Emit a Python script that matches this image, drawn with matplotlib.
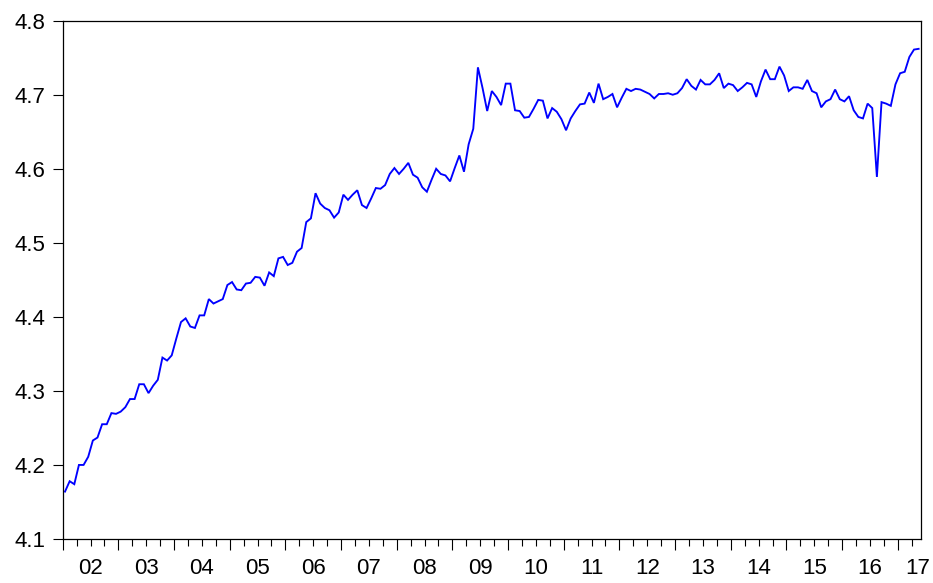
import numpy as np
import matplotlib
matplotlib.use("Agg")
import matplotlib.pyplot as plt
from matplotlib.ticker import MultipleLocator, NullFormatter
import matplotlib.transforms as mtransforms

plt.rcParams['font.family'] = ['Liberation Sans', 'DejaVu Sans']

# Monthly series, 2002m1 - 2017m5
start_year = 2002
y2002 = [4.164, 4.178, 4.174, 4.200, 4.200, 4.211, 4.233, 4.237, 4.255, 4.255, 4.270, 4.269]
y2003 = [4.272, 4.278, 4.289, 4.289, 4.309, 4.309, 4.297, 4.307, 4.315, 4.345, 4.341, 4.348]
y2004 = [4.371, 4.393, 4.398, 4.387, 4.385, 4.402, 4.402, 4.424, 4.418, 4.421, 4.424, 4.443]
y2005 = [4.447, 4.437, 4.436, 4.445, 4.446, 4.454, 4.453, 4.442, 4.460, 4.455, 4.479, 4.481]
y2006 = [4.470, 4.473, 4.488, 4.493, 4.528, 4.533, 4.567, 4.553, 4.547, 4.544, 4.534, 4.541]
y2007 = [4.565, 4.558, 4.565, 4.571, 4.551, 4.547, 4.560, 4.574, 4.573, 4.578, 4.593, 4.601]
y2008 = [4.593, 4.600, 4.608, 4.592, 4.588, 4.575, 4.569, 4.585, 4.600, 4.593, 4.591, 4.583]
y2009 = [4.601, 4.618, 4.596, 4.633, 4.654, 4.737, 4.709, 4.678, 4.705, 4.697, 4.686, 4.715]
y2010 = [4.715, 4.679, 4.678, 4.669, 4.670, 4.681, 4.693, 4.692, 4.668, 4.682, 4.677, 4.667]
y2011 = [4.652, 4.668, 4.678, 4.687, 4.688, 4.703, 4.689, 4.715, 4.694, 4.697, 4.701, 4.683]
y2012 = [4.696, 4.708, 4.705, 4.708, 4.707, 4.704, 4.701, 4.695, 4.701, 4.701, 4.702, 4.700]
y2013 = [4.702, 4.709, 4.721, 4.712, 4.707, 4.720, 4.714, 4.714, 4.720, 4.729, 4.709, 4.715]
y2014 = [4.713, 4.705, 4.710, 4.716, 4.714, 4.697, 4.718, 4.734, 4.721, 4.721, 4.738, 4.726]
y2015 = [4.705, 4.710, 4.710, 4.708, 4.720, 4.705, 4.702, 4.683, 4.691, 4.694, 4.707, 4.694]
y2016 = [4.691, 4.698, 4.679, 4.670, 4.668, 4.688, 4.682, 4.589, 4.690, 4.688, 4.685, 4.714]
y2017 = [4.729, 4.731, 4.751, 4.761, 4.762]

year_labels = ['02', '03', '04', '05', '06', '07', '08', '09', '10',
               '11', '12', '13', '14', '15', '16', '17']
y_ticks = [4.1, 4.2, 4.3, 4.4, 4.5, 4.6, 4.7, 4.8]

values = np.array(y2002 + y2003 + y2004 + y2005 + y2006 + y2007 + y2008 + y2009 +
                  y2010 + y2011 + y2012 + y2013 + y2014 + y2015 + y2016 + y2017)
n = len(values)
x = start_year + (np.arange(n) + 0.5) / 12.0

fig = plt.figure(figsize=(9.33, 5.83), dpi=100)
ax = fig.add_axes([0.0672, 0.0755, 0.9199, 0.889])
ax.plot(x, values, color='#0000FF', lw=1.35, solid_joinstyle='miter')

xmin, xmax = start_year, start_year + n / 12.0
ax.set_xlim(xmin, xmax)
ax.set_ylim(4.1, 4.8)
ax.set_yticks(y_ticks)
ax.set_yticklabels([f"{v:.1f}" for v in y_ticks])

ax.set_xticks(np.arange(start_year, int(xmax) + 1))
ax.xaxis.set_major_formatter(NullFormatter())
ax.xaxis.set_minor_locator(MultipleLocator(0.25))
ax.tick_params(axis='x', which='major', direction='out', length=8, width=0.8, colors='black')
ax.tick_params(axis='x', which='minor', direction='out', length=5, width=0.8, colors='black')
ax.tick_params(axis='y', which='major', direction='out', length=7.5, width=0.8,
               labelsize=16, pad=5)
for s in ax.spines.values():
    s.set_linewidth(0.9)
    s.set_color('black')

trans = mtransforms.blended_transform_factory(ax.transData, ax.transAxes)
for k, lab in enumerate(year_labels):
    xc = start_year + k + 0.5
    xc = min(xc, xmax - 0.06)
    ax.text(xc, -0.057, lab, transform=trans, ha='center', va='center', fontsize=16)

fig.savefig('out.png', dpi=100, facecolor='white')
